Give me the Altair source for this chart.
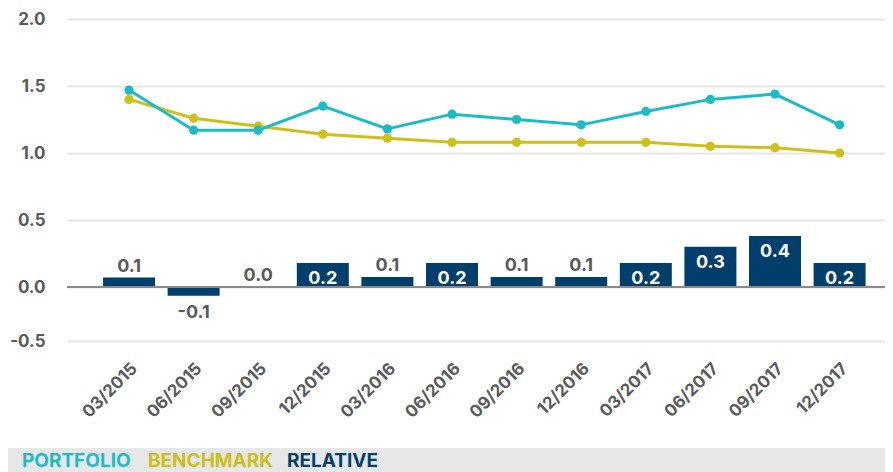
import altair as alt
import pandas as pd

dates = ["03/2015", "06/2015", "09/2015", "12/2015", "03/2016", "06/2016",
         "09/2016", "12/2016", "03/2017", "06/2017", "09/2017", "12/2017"]
portfolio = [1.47, 1.17, 1.17, 1.35, 1.18, 1.29, 1.25, 1.21, 1.31, 1.40, 1.44, 1.21]
benchmark = [1.40, 1.26, 1.20, 1.14, 1.11, 1.08, 1.08, 1.08, 1.08, 1.05, 1.04, 1.00]
relative = [0.07, -0.08, 0.0, 0.18, 0.075, 0.18, 0.075, 0.075, 0.18, 0.30, 0.38, 0.18]

legend_labels = ["PORTFOLIO", "BENCHMARK", "RELATIVE"]
legend_colors = ["#1bbcc6", "#cfbf1b", "#003e6b"]
legend_x = [-45, 81, 220]

FONT = "Inter"
GREY = "#5a5a5a"

df = pd.DataFrame({"idx": list(range(len(dates))), "date": dates,
                   "PORTFOLIO": portfolio, "BENCHMARK": benchmark,
                   "RELATIVE": relative})

W, H = 818, 322
xs = alt.Scale(domain=dates, paddingInner=0.195, paddingOuter=0.429, align=0.65)
ys = alt.Scale(domain=[-0.5, 0, 2.0], range=[H, 268, 0], nice=False, zero=False)

x = alt.X("date:N", scale=xs, sort=dates, title=None,
          axis=alt.Axis(labelAngle=-45, labelAlign="right", labelBaseline="top",
                        labelFontSize=17, labelPadding=19, grid=False))
yaxis = alt.Axis(values=[-0.5, 0, 0.5, 1.0, 1.5, 2.0], format=".1f",
                 labelExpr="replace(datum.label, '\u2212', '-')", title=None,
                 labelFontSize=17, labelPadding=22)


def Y(field):
    return alt.Y(field, scale=ys, axis=yaxis, title=None)


base = alt.Chart(df).transform_calculate(
    lbl="replace(format(datum.RELATIVE, '.1f'), '\u2212', '-')")

bars = base.mark_bar(color="#003e6b").encode(
    x=x, y=Y("RELATIVE:Q"), y2=alt.datum(0),
)

zero = base.mark_rule(color="#8a8a8a", strokeWidth=2).encode(
    x=alt.value(0), x2=alt.value(W), y=alt.Y(datum=0, scale=ys, axis=yaxis, title=None)
)

lab_in = base.transform_filter("datum.RELATIVE >= 0.15").mark_text(
    font=FONT, fontSize=18, fontWeight="bold", color="white", baseline="top", dy=7
).encode(x=x, y=Y("RELATIVE:Q"), text="lbl:N")

lab_out = base.transform_filter("datum.RELATIVE >= 0 && datum.RELATIVE < 0.15").mark_text(
    font=FONT, fontSize=18, fontWeight="bold", color=GREY, baseline="alphabetic", dy=-6
).encode(x=x, y=Y("RELATIVE:Q"), text="lbl:N")

lab_neg = base.transform_filter("datum.RELATIVE < 0").mark_text(
    font=FONT, fontSize=18, fontWeight="bold", color=GREY, baseline="top", dy=8
).encode(x=x, y=Y("RELATIVE:Q"), text="lbl:N")

color = alt.Color("series:N", scale=alt.Scale(domain=["PORTFOLIO", "BENCHMARK"],
                                              range=[legend_colors[0], legend_colors[1]]),
                  legend=None)
folded = alt.Chart(df).transform_fold(["BENCHMARK", "PORTFOLIO"], as_=["series", "value"])
lines = folded.mark_line(strokeWidth=3).encode(
    x=x, y=Y("value:Q"), color=color, order=alt.Order("idx:Q"))
points = folded.mark_point(filled=True, size=85, opacity=1).encode(
    x=x, y=Y("value:Q"), color=color)

band = alt.Chart(df).mark_rect(color="#e6e7e9").encode(
    x=alt.value(-70), x2=alt.value(W + 10), y=alt.value(429), y2=alt.value(470))

legend_layers = []
for lbl, col, lx in zip(legend_labels, legend_colors, legend_x):
    legend_layers.append(
        alt.Chart(pd.DataFrame({"t": [lbl]})).mark_text(
            font=FONT, fontSize=19, fontWeight="bold", color=col,
            align="left", baseline="alphabetic"
        ).encode(x=alt.value(lx), y=alt.value(448), text="t:N")
    )

chart = alt.layer(bars, zero, lines, points, lab_in, lab_out, lab_neg, band,
                  *legend_layers).properties(
    width=W, height=H,
    autosize=alt.AutoSizeParams(type="none"),
    padding={"left": 59, "top": 11, "right": 0, "bottom": 145},
).configure_view(stroke=None).configure_axis(
    labelFont=FONT, labelFontWeight="bold", labelColor=GREY,
    domain=False, ticks=False, tickSize=0,
).configure_axisY(
    labelFontSize=17, labelPadding=22, gridColor="#e6e6e6", gridWidth=2,
)

chart.save("out.html", embed_options={"renderer": "svg", "actions": False})
